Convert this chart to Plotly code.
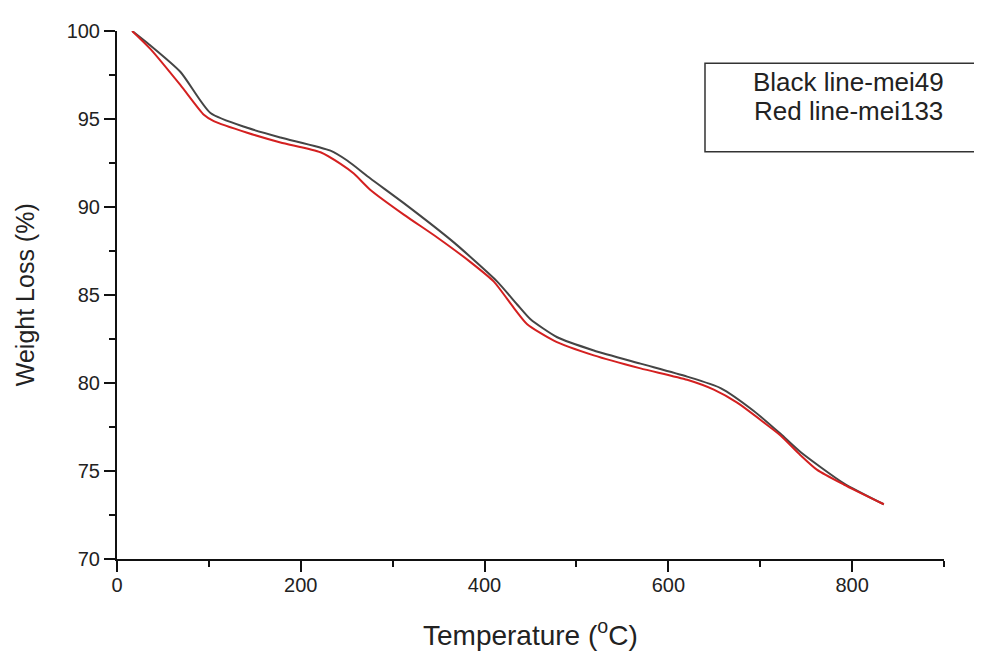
import plotly.graph_objects as go

# Red line - mei133
temp_red = [16.5, 36.5, 69.1, 94.5, 105.3, 141.7, 177.9, 221.5, 243.3, 257.7, 275.8, 312.1,
            348.5, 384.7, 410.1, 431.8, 446.4, 475.4, 518.9, 569.7, 620.5, 649.5, 674.9,
            703.9, 722.1, 743.8, 762.0, 790.9, 834.5]
weight_red = [100.0, 98.97, 96.92, 95.24, 94.88, 94.22, 93.67, 93.11, 92.45, 91.90, 90.97, 89.57,
              88.27, 86.87, 85.76, 84.27, 83.34, 82.41, 81.57, 80.83, 80.18, 79.62, 78.88,
              77.76, 77.02, 75.90, 75.06, 74.23, 73.11]

# Black line - mei49
temp_black = [16.5, 34.6, 69.1, 101.7, 141.7, 177.9, 232.3, 250.5, 275.8, 312.1, 366.5, 413.8,
              435.5, 450.0, 479.1, 518.9, 569.7, 620.5, 656.8, 693.0, 722.1, 743.8, 790.9, 834.5]
weight_black = [100.0, 99.25, 97.67, 95.34, 94.50, 93.95, 93.20, 92.64, 91.62, 90.22, 87.99, 85.76,
                84.46, 83.62, 82.60, 81.85, 81.10, 80.36, 79.71, 78.41, 77.11, 76.08, 74.30, 73.11]

legend_lines = ["Black line-mei49", "Red line-mei133"]
x_ticks = [0, 200, 400, 600, 800]
x_minor = [100, 300, 500, 700, 900]
y_ticks = [70, 75, 80, 85, 90, 95, 100]
y_minor = [72.5, 77.5, 82.5, 87.5, 92.5, 97.5]

FONT = "Liberation Sans, Arial, sans-serif"

fig = go.Figure()
fig.add_trace(go.Scatter(x=temp_black, y=weight_black, mode="lines",
                         line=dict(color="#454545", width=2, shape="spline", smoothing=0.6),
                         name="mei49"))
fig.add_trace(go.Scatter(x=temp_red, y=weight_red, mode="lines",
                         line=dict(color="#d42020", width=2, shape="spline", smoothing=0.6),
                         name="mei133"))

axis_common = dict(showline=True, linecolor="#111", linewidth=2, showgrid=False, zeroline=False,
                   ticks="outside", ticklen=11, tickwidth=2, tickcolor="#111",
                   tickfont=dict(family=FONT, size=20, color="#222"))

fig.update_xaxes(range=[0, 900], tickvals=x_ticks, ticklabelstandoff=-4,
                 minor=dict(tickvals=x_minor, ticks="outside", ticklen=6,
                            tickwidth=2, tickcolor="#111"),
                 **axis_common)
fig.update_yaxes(range=[70, 100], tickvals=y_ticks,
                 minor=dict(tickvals=y_minor, ticks="outside",
                            ticklen=6, tickwidth=2, tickcolor="#111"),
                 **axis_common)

fig.add_shape(type="rect", xref="paper", yref="paper", x0=0.711, x1=1.1, y0=0.7714, y1=0.9387,
              line=dict(color="#333", width=1.5), fillcolor="rgba(0,0,0,0)")

fig.add_annotation(xref="paper", yref="paper", x=0.884, y=0.9033, text=legend_lines[0],
                   showarrow=False, xanchor="center", yanchor="middle",
                   font=dict(family=FONT, size=26, color="#222"))
fig.add_annotation(xref="paper", yref="paper", x=0.884, y=0.8476, text=legend_lines[1],
                   showarrow=False, xanchor="center", yanchor="middle",
                   font=dict(family=FONT, size=26, color="#222"))

fig.add_annotation(xref="paper", yref="paper", x=0.5, y=-0.141, text="Temperature (<sup>o</sup>C)",
                   showarrow=False, xanchor="center", yanchor="middle",
                   font=dict(family=FONT, size=28, color="#222"))
fig.add_annotation(xref="paper", yref="paper", x=-0.111, y=0.5, text="Weight Loss (%)",
                   showarrow=False, xanchor="center", yanchor="middle", textangle=-90,
                   font=dict(family=FONT, size=25, color="#222"))

fig.update_layout(width=974, height=644, margin=dict(l=109, r=38, t=13, b=93),
                  paper_bgcolor="white", plot_bgcolor="white", showlegend=False)

fig.write_html("out.html")
